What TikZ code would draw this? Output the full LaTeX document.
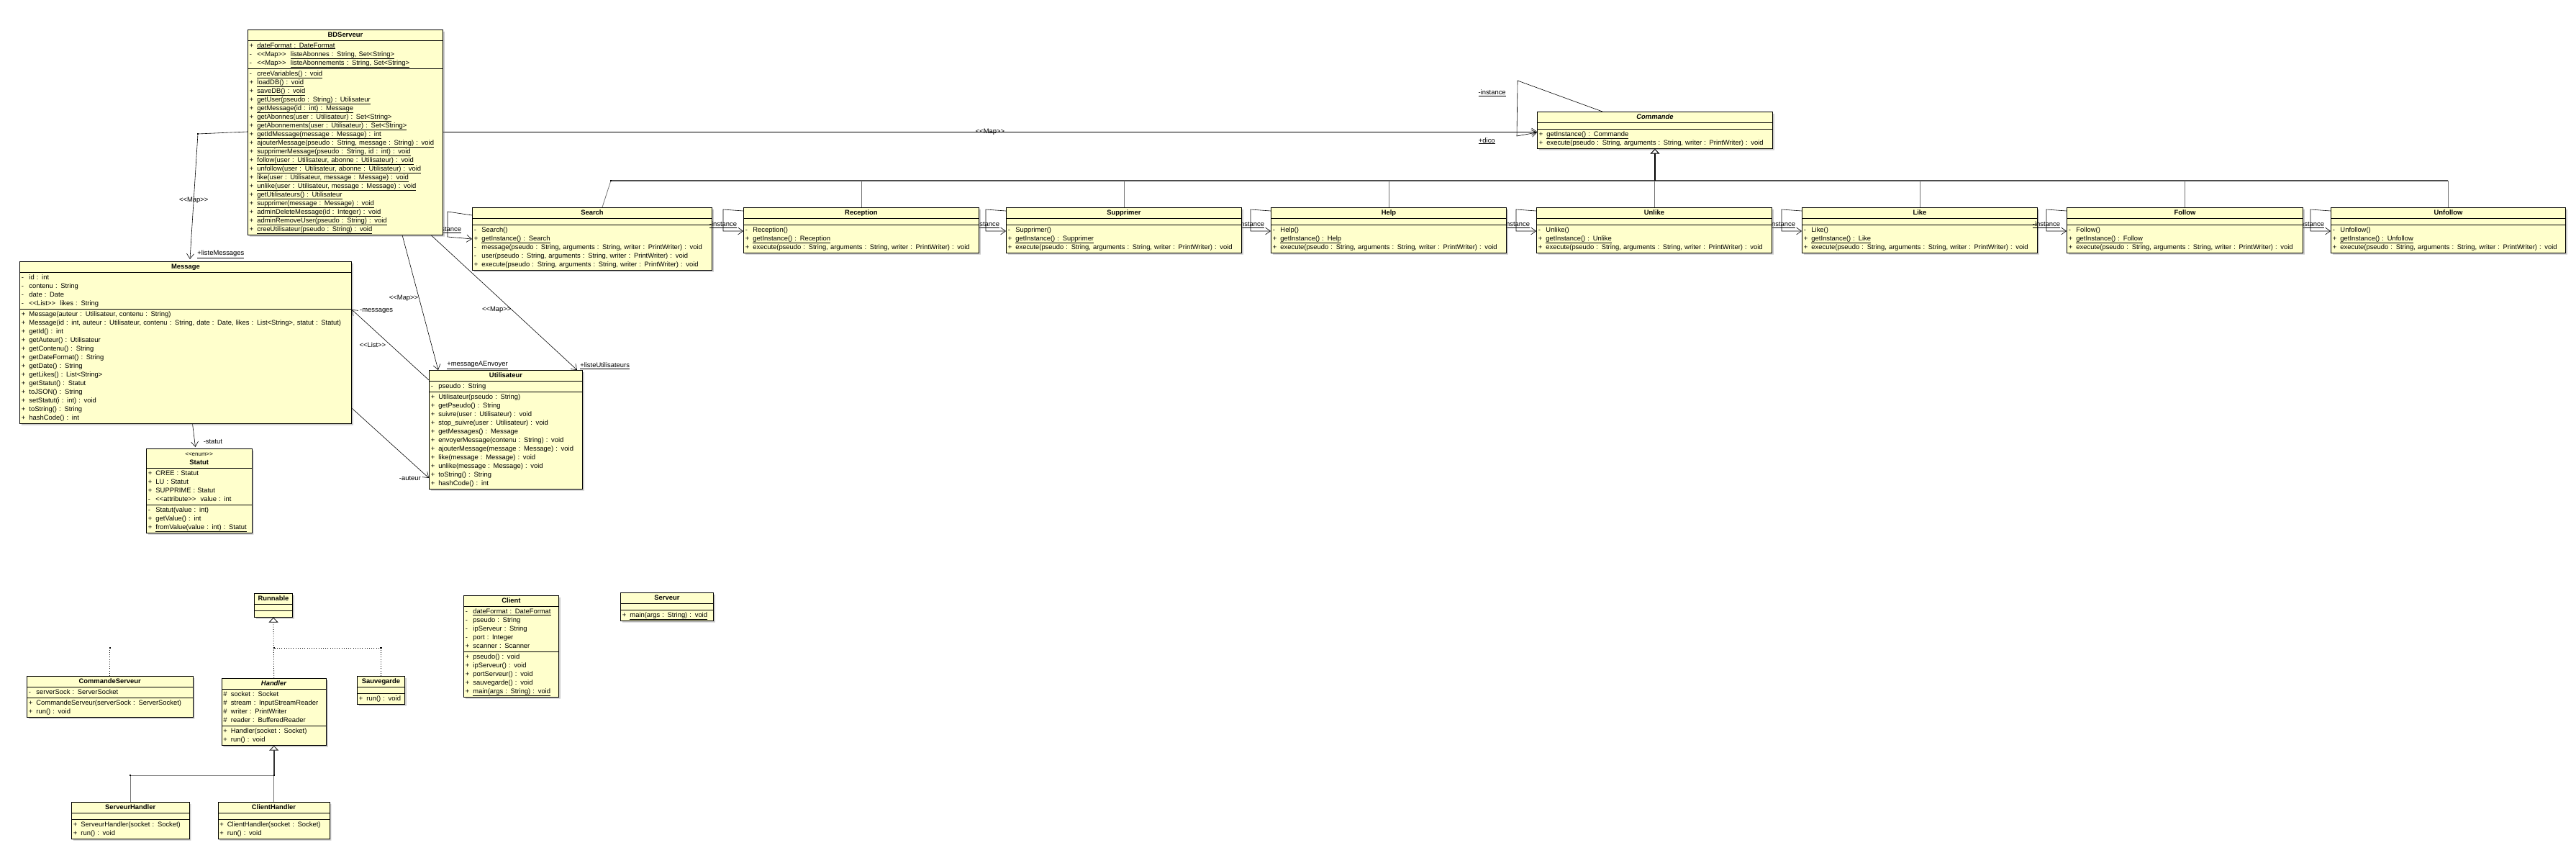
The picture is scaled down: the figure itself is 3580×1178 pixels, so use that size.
\documentclass[tikz,border=0pt]{standalone}
\usepackage{fontspec}
\newfontfamily\umlfont{Liberation Sans}
\usetikzlibrary{shapes.multipart}
\usetikzlibrary{shadows}
\usetikzlibrary{arrows.meta}
\usetikzlibrary{positioning}
\definecolor{classfill}{HTML}{FFFFCC}
\newcommand{\umltext}[1]{\umlfont\fontsize{9.4}{#1}\selectfont\lineskiplimit -2pt\relax}
\newcommand{\member}[2]{\mbox{\makebox[10.5pt][l]{#1}\smash{#2}}\strut}
\newcommand{\classtitle}[1]{\makebox[\hsize][c]{#1}\strut}
\newcommand{\static}[1]{\underline{#1}}
\newcommand{\emptypart}{\rule{0pt}{6pt}}
\pgfdeclarelayer{background}
\pgfsetlayers{background,main}

\begin{document}
\begin{tikzpicture}[x=1pt,y=-1pt,
	umlclass/.style={rectangle split,rectangle split parts=3,draw=black,
		line width=.9pt,fill=classfill,anchor=north west,inner xsep=2.5pt,
		inner ysep=1pt,align=left,font={\umltext{12}},
		drop shadow={shadow xshift=2.5pt,shadow yshift=-2.5pt,opacity=.4}},
	lbl/.style={font=\umlfont\fontsize{9.4}{11}\selectfont,inner sep=1pt},
	assoc/.style={line width=.6pt,-{Straight Barb[length=7pt,width=10pt,line width=.6pt]}},
	genline/.style={line width=1.8pt,-{Triangle[fill=white,length=7pt,width=13pt,line width=1pt]}},
	busline/.style={draw=black!70,line width=1.5pt},
	drop/.style={draw=black!55,line width=.8pt},
	realize/.style={line width=.8pt,dash pattern=on 1pt off 2.2pt},
	realtip/.style={-{Triangle[fill=white,length=7pt,width=13pt,line width=.8pt]}}]

	\useasboundingbox (0,0) rectangle (3580,1178);

	% server side data
	\node[umlclass,text width=266pt] (bd) at (344,41) {%
		\classtitle{\textbf{BDServeur}}
		\nodepart{two}
		\member{+}{\static{dateFormat : DateFormat}}\\
		\member{-}{<<Map>>\ \ \static{listeAbonnes : String, Set<String>}}\\
		\member{-}{<<Map>>\ \ \static{listeAbonnements : String, Set<String>}}
		\nodepart{three}
		\member{-}{\static{creeVariables() : void}}\\
		\member{+}{\static{loadDB() : void}}\\
		\member{+}{\static{saveDB() : void}}\\
		\member{+}{\static{getUser(pseudo : String) : Utilisateur}}\\
		\member{+}{\static{getMessage(id : int) : Message}}\\
		\member{+}{\static{getAbonnes(user : Utilisateur) : Set<String>}}\\
		\member{+}{\static{getAbonnements(user : Utilisateur) : Set<String>}}\\
		\member{+}{\static{getIdMessage(message : Message) : int}}\\
		\member{+}{\static{ajouterMessage(pseudo : String, message : String) : void}}\\
		\member{+}{\static{supprimerMessage(pseudo : String, id : int) : void}}\\
		\member{+}{\static{follow(user : Utilisateur, abonne : Utilisateur) : void}}\\
		\member{+}{\static{unfollow(user : Utilisateur, abonne : Utilisateur) : void}}\\
		\member{+}{\static{like(user : Utilisateur, message : Message) : void}}\\
		\member{+}{\static{unlike(user : Utilisateur, message : Message) : void}}\\
		\member{+}{\static{getUtilisateurs() : Utilisateur}}\\
		\member{+}{\static{supprimer(message : Message) : void}}\\
		\member{+}{\static{adminDeleteMessage(id : Integer) : void}}\\
		\member{+}{\static{adminRemoveUser(pseudo : String) : void}}\\
		\member{+}{\static{creeUtilisateur(pseudo : String) : void}}};

	\node[umlclass,text width=456pt] (msg) at (27,363) {%
		\classtitle{\textbf{Message}}
		\nodepart{two}
		\member{-}{id : int}\\
		\member{-}{contenu : String}\\
		\member{-}{date : Date}\\
		\member{-}{<<List>>\ \ likes : String}
		\nodepart{three}
		\member{+}{Message(auteur : Utilisateur, contenu : String)}\\
		\member{+}{Message(id : int, auteur : Utilisateur, contenu : String, date : Date, likes : List<String>, statut : Statut)}\\
		\member{+}{getId() : int}\\
		\member{+}{getAuteur() : Utilisateur}\\
		\member{+}{getContenu() : String}\\
		\member{+}{getDateFormat() : String}\\
		\member{+}{getDate() : String}\\
		\member{+}{getLikes() : List<String>}\\
		\member{+}{getStatut() : Statut}\\
		\member{+}{toJSON() : String}\\
		\member{+}{setStatut(i : int) : void}\\
		\member{+}{toString() : String}\\
		\member{+}{hashCode() : int}};

	\node[umlclass,text width=141.5pt] (statut) at (203,623) {%
		\classtitle{\fontsize{8}{12}\selectfont <<enum>>}\\
		\classtitle{\textbf{Statut}}
		\nodepart{two}
		\member{+}{CREE : Statut}\\
		\member{+}{LU : Statut}\\
		\member{+}{SUPPRIME : Statut}\\
		\member{-}{<<attribute>>\ \ value : int}
		\nodepart{three}
		\member{-}{Statut(value : int)}\\
		\member{+}{getValue() : int}\\
		\member{+}{\static{fromValue(value : int) : Statut}}};

	\node[umlclass,text width=208pt] (util) at (596,514) {%
		\classtitle{\textbf{Utilisateur}}
		\nodepart{two}
		\member{-}{pseudo : String}
		\nodepart{three}
		\member{+}{Utilisateur(pseudo : String)}\\
		\member{+}{getPseudo() : String}\\
		\member{+}{suivre(user : Utilisateur) : void}\\
		\member{+}{stop\_suivre(user : Utilisateur) : void}\\
		\member{+}{getMessages() : Message}\\
		\member{+}{envoyerMessage(contenu : String) : void}\\
		\member{+}{ajouterMessage(message : Message) : void}\\
		\member{+}{like(message : Message) : void}\\
		\member{+}{unlike(message : Message) : void}\\
		\member{+}{toString() : String}\\
		\member{+}{hashCode() : int}};

	% commands
	\node[umlclass,text width=322pt] (cmd) at (2136,155) {%
		\classtitle{\textbf{\itshape Commande}}
		\nodepart{two}\emptypart
		\nodepart{three}
		\member{+}{\static{getInstance() : Commande}}\\
		\member{+}{execute(pseudo : String, arguments : String, writer : PrintWriter) : void}};

	\node[umlclass,text width=328pt] (search) at (656,288) {%
		\classtitle{\textbf{Search}}
		\nodepart{two}\emptypart
		\nodepart{three}
		\member{-}{Search()}\\
		\member{+}{\static{getInstance() : Search}}\\
		\member{-}{message(pseudo : String, arguments : String, writer : PrintWriter) : void}\\
		\member{-}{user(pseudo : String, arguments : String, writer : PrintWriter) : void}\\
		\member{+}{execute(pseudo : String, arguments : String, writer : PrintWriter) : void}};

	\node[umlclass,text width=322pt] (reception) at (1033,288) {%
		\classtitle{\textbf{Reception}}
		\nodepart{two}\emptypart
		\nodepart{three}
		\member{-}{Reception()}\\
		\member{+}{\static{getInstance() : Reception}}\\
		\member{+}{execute(pseudo : String, arguments : String, writer : PrintWriter) : void}};

	\node[umlclass,text width=322pt] (supprimer) at (1398,288) {%
		\classtitle{\textbf{Supprimer}}
		\nodepart{two}\emptypart
		\nodepart{three}
		\member{-}{Supprimer()}\\
		\member{+}{\static{getInstance() : Supprimer}}\\
		\member{+}{execute(pseudo : String, arguments : String, writer : PrintWriter) : void}};

	\node[umlclass,text width=322pt] (help) at (1766,288) {%
		\classtitle{\textbf{Help}}
		\nodepart{two}\emptypart
		\nodepart{three}
		\member{-}{Help()}\\
		\member{+}{\static{getInstance() : Help}}\\
		\member{+}{execute(pseudo : String, arguments : String, writer : PrintWriter) : void}};

	\node[umlclass,text width=322pt] (unlike) at (2135,288) {%
		\classtitle{\textbf{Unlike}}
		\nodepart{two}\emptypart
		\nodepart{three}
		\member{-}{Unlike()}\\
		\member{+}{\static{getInstance() : Unlike}}\\
		\member{+}{execute(pseudo : String, arguments : String, writer : PrintWriter) : void}};

	\node[umlclass,text width=322pt] (like) at (2504,288) {%
		\classtitle{\textbf{Like}}
		\nodepart{two}\emptypart
		\nodepart{three}
		\member{-}{Like()}\\
		\member{+}{\static{getInstance() : Like}}\\
		\member{+}{execute(pseudo : String, arguments : String, writer : PrintWriter) : void}};

	\node[umlclass,text width=323pt] (follow) at (2872,288) {%
		\classtitle{\textbf{Follow}}
		\nodepart{two}\emptypart
		\nodepart{three}
		\member{-}{Follow()}\\
		\member{+}{\static{getInstance() : Follow}}\\
		\member{+}{execute(pseudo : String, arguments : String, writer : PrintWriter) : void}};

	\node[umlclass,text width=321pt] (unfollow) at (3239,288) {%
		\classtitle{\textbf{Unfollow}}
		\nodepart{two}\emptypart
		\nodepart{three}
		\member{-}{Unfollow()}\\
		\member{+}{\static{getInstance() : Unfollow}}\\
		\member{+}{execute(pseudo : String, arguments : String, writer : PrintWriter) : void}};

	% threads
	\node[umlclass,text width=48pt] (runnable) at (353,824) {%
		\classtitle{\textbf{Runnable}}
		\nodepart{two}\emptypart
		\nodepart{three}\emptypart};

	\node[umlclass,text width=225.5pt] (cmdserv) at (37,939) {%
		\classtitle{\textbf{CommandeServeur}}
		\nodepart{two}
		\member{-}{serverSock : ServerSocket}
		\nodepart{three}
		\member{+}{CommandeServeur(serverSock : ServerSocket)}\\
		\member{+}{run() : void}};

	\node[umlclass,text width=140.5pt] (handler) at (307.5,942) {%
		\classtitle{\textbf{\itshape Handler}}
		\nodepart{two}
		\member{\#}{socket : Socket}\\
		\member{\#}{stream : InputStreamReader}\\
		\member{\#}{writer : PrintWriter}\\
		\member{\#}{reader : BufferedReader}
		\nodepart{three}
		\member{+}{Handler(socket : Socket)}\\
		\member{+}{run() : void}};

	\node[umlclass,text width=61pt] (sauvegarde) at (496,939) {%
		\classtitle{\textbf{Sauvegarde}}
		\nodepart{two}\emptypart
		\nodepart{three}
		\member{+}{run() : void}};

	\node[umlclass,text width=158.5pt] (servhandler) at (99,1114) {%
		\classtitle{\textbf{ServeurHandler}}
		\nodepart{two}\emptypart
		\nodepart{three}
		\member{+}{ServeurHandler(socket : Socket)}\\
		\member{+}{run() : void}};

	\node[umlclass,text width=150pt] (clienthandler) at (302.5,1114) {%
		\classtitle{\textbf{ClientHandler}}
		\nodepart{two}\emptypart
		\nodepart{three}
		\member{+}{ClientHandler(socket : Socket)}\\
		\member{+}{run() : void}};

	\node[umlclass,text width=127pt] (client) at (644,827) {%
		\classtitle{\textbf{Client}}
		\nodepart{two}
		\member{-}{\static{dateFormat : DateFormat}}\\
		\member{-}{pseudo : String}\\
		\member{-}{ipServeur : String}\\
		\member{-}{port : Integer}\\
		\member{+}{scanner : Scanner}
		\nodepart{three}
		\member{+}{pseudo() : void}\\
		\member{+}{ipServeur() : void}\\
		\member{+}{portServeur() : void}\\
		\member{+}{sauvegarde() : void}\\
		\member{+}{\static{main(args : String) : void}}};

	\node[umlclass,text width=124pt] (serveur) at (862,823) {%
		\classtitle{\textbf{Serveur}}
		\nodepart{two}\emptypart
		\nodepart{three}
		\member{+}{\static{main(args : String) : void}}};

	% connectors behind the boxes
	\begin{pgfonlayer}{background}
		\fill[white] (0,0) rectangle (3580,1178);

		\draw[assoc] ([yshift=-142]bd.north east) --
			node[lbl] (dicomap) {<<Map>>}
			([yshift=-28]cmd.north west)
			node[lbl,anchor=north east,xshift=-57pt,yshift=-7pt] (dico) {\static{+dico}};

		\draw[assoc] ([xshift=91]cmd.north west) -- ([xshift=-27,yshift=43]cmd.north west)
			node[lbl,anchor=east,xshift=-15pt,yshift=-17pt] (cmdinst) {\static{-instance}}
			-- ([xshift=-28,yshift=-34]cmd.north west) -- ([yshift=-29]cmd.north west);

		\coordinate (mapbend) at (275,186);
		\draw[assoc] ([yshift=-142]bd.north west) -- (mapbend) --
			node[lbl,pos=.53] (msgmap) {<<Map>>}
			([xshift=237,yshift=3]msg.north west)
			node[lbl,anchor=south west,xshift=9pt] (listemsg) {\static{+listeMessages}};

		\draw[assoc] ([xshift=215]bd.south west) --
			node[lbl,pos=.47,anchor=east] (envmap) {<<Map>>}
			([xshift=13]util.north west)
			node[lbl,anchor=south west,xshift=11pt] (aenvoyer) {\static{+messageAEnvoyer}};

		\draw[assoc] ([xshift=255]bd.south west) --
			node[lbl,pos=.555,anchor=east] (utilmap) {<<Map>>}
			([xshift=206]util.north west)
			node[lbl,anchor=south west,xshift=3pt] (listeutil) {\static{+listeUtilisateurs}};

		\draw[assoc] ([yshift=-14]util.north west) --
			node[lbl,pos=.5,anchor=east,xshift=-5pt] (msglist) {<<List>>}
			([yshift=-67]msg.north east)
			node[lbl,anchor=west,xshift=10pt,yshift=-2pt] (messages) {-messages};

		\draw[assoc] ([yshift=-204]msg.north east) -- ([yshift=-150]util.north west)
			node[lbl,anchor=east,xshift=-10pt] (auteur) {-auteur};

		\draw[assoc] ([xshift=240.5]msg.south west) -- ([xshift=68.5,yshift=2]statut.north west)
			node[lbl,anchor=west,xshift=10pt,yshift=8pt] (statutlbl) {-statut};

		% singletons
		\draw[assoc] ([yshift=-11]search.north west) -- ([xshift=-34,yshift=-6]search.north west)
			-- ([xshift=-34,yshift=-41]search.north west)
			node[lbl,anchor=south,yshift=4pt] (searchinst) {\static{-instance}}
			-- ([yshift=-44]search.north west);
		\foreach \c in {supprimer,help,unlike,like,unfollow}
			\draw[assoc] ([yshift=-5]\c.north west) -- ([xshift=-28,yshift=-3]\c.north west)
				-- ([xshift=-28,yshift=-33]\c.north west)
				node[lbl,anchor=south,yshift=3pt] {\static{-instance}}
				-- ([yshift=-33]\c.north west);

		% inheritance bus
		\coordinate (bus) at (0,251);
		\coordinate (searchtop) at ([xshift=14]search.north);
		\coordinate (searchjoin) at ([xshift=26]search.north);
		\draw[busline] (searchjoin |- bus) -- (unfollow.north |- bus);
		\draw[drop] (searchtop) -- (searchjoin |- bus);
		\foreach \c in {reception,supprimer,help,unlike,like,follow,unfollow}
			\draw[drop] (\c.north) -- (\c.north |- bus);
		\draw[genline] (cmd.south |- bus) -- (cmd.south);

		% threads
		\coordinate (rbus) at (0,900);
		\draw[realize,realtip] (handler.north) -- (runnable.south);
		\draw[realize] (sauvegarde.north) -- (sauvegarde.north |- rbus) -- (handler.north |- rbus);
		\draw[realize] (cmdserv.north) -- (cmdserv.north |- rbus);
		\coordinate (hbus) at (0,1077);
		\draw[drop] (servhandler.north) -- (servhandler.north |- hbus) -- (clienthandler.north |- hbus)
			-- (clienthandler.north);
		\draw[genline,draw=black!80] (handler.south |- hbus) -- (handler.south);

		% bend points
		\foreach \p in {mapbend,searchjoin |- bus,cmdserv.north |- rbus,sauvegarde.north |- rbus,
			handler.north |- rbus,servhandler.north |- hbus,handler.south |- hbus}
			\fill (\p) +(-1.2,-1.2) rectangle +(1.2,1.2);
	\end{pgfonlayer}

	% these two labels lie over the neighbour box
	\draw[assoc] ([yshift=-5]reception.north west) -- ([xshift=-28,yshift=-3]reception.north west)
		-- ([xshift=-28,yshift=-33]reception.north west)
		node[lbl,anchor=south,yshift=3pt] (recinst) {\static{-instance}}
		-- ([yshift=-33]reception.north west);
	\draw[assoc] ([yshift=-5]follow.north west) -- ([xshift=-28,yshift=-3]follow.north west)
		-- ([xshift=-28,yshift=-33]follow.north west)
		node[lbl,anchor=south,yshift=3pt] (followinst) {\static{-instance}}
		-- ([yshift=-33]follow.north west);
\end{tikzpicture}
\end{document}
